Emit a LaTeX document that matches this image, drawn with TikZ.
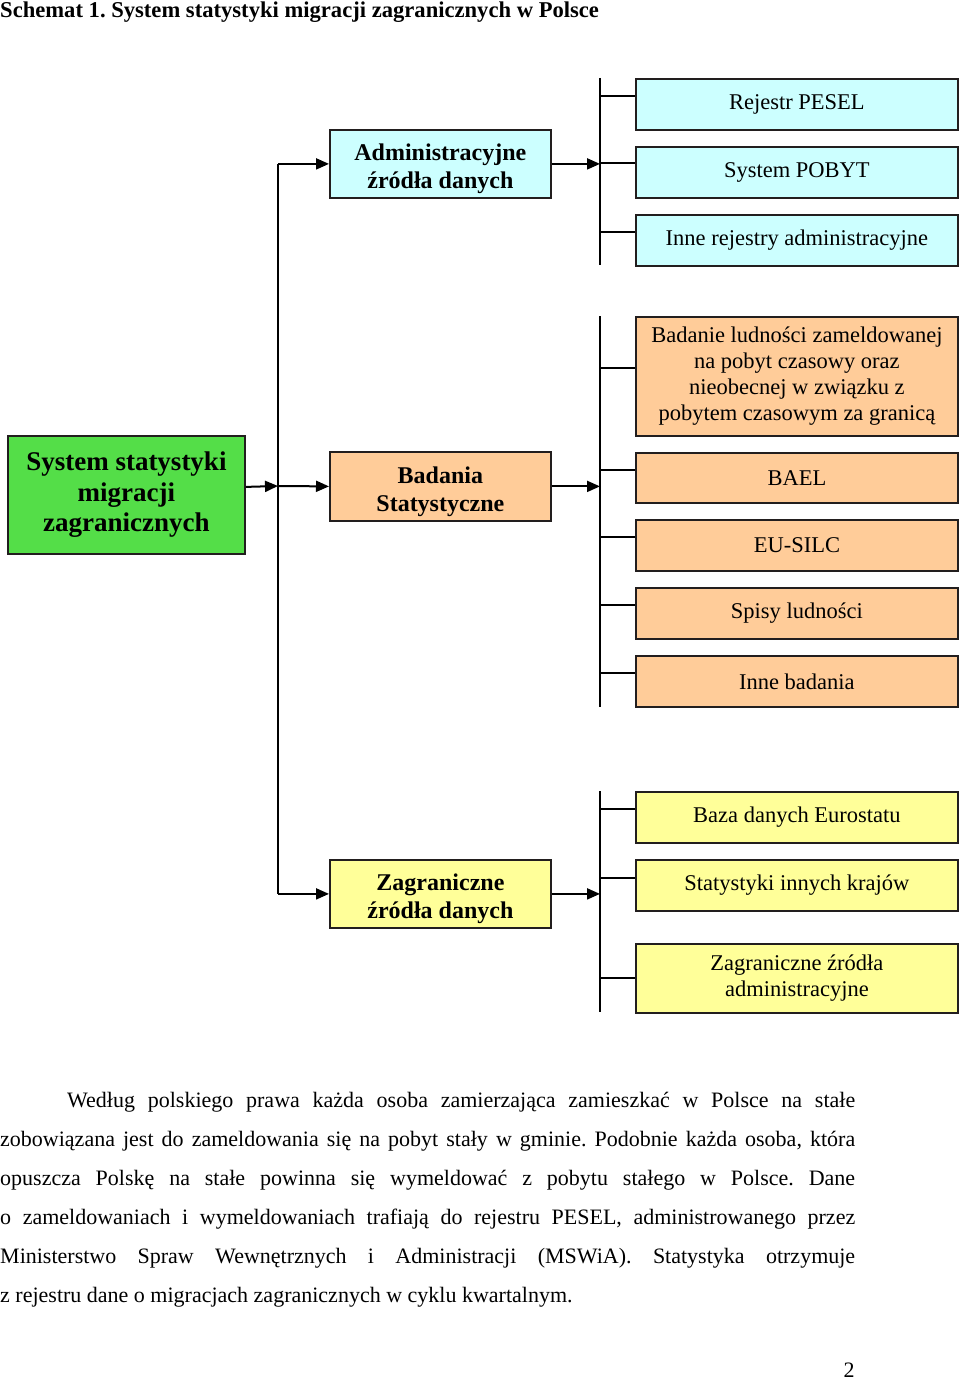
\documentclass[tikz,border=0pt]{standalone}
\usepackage{fontspec}
\setmainfont{Liberation Serif}
\usetikzlibrary{arrows.meta}
\definecolor{cyanbox}{RGB}{204,255,255}
\definecolor{peachbox}{RGB}{255,204,153}
\definecolor{yellowbox}{RGB}{255,255,153}
\definecolor{greenbox}{RGB}{84,222,72}
\definecolor{edge}{RGB}{34,30,30}
\frenchspacing
\tikzset{
  box/.style={draw=edge, line width=1.8pt, anchor=north west, inner sep=2pt, align=center},
  rbox/.style={box, minimum width=322pt, minimum height=51pt, font=\fontsize{22.5}{26}\selectfont},
  mbox/.style={box, minimum width=221pt, minimum height=68pt},
  mtext/.style={align=center, inner sep=0pt, font=\fontsize{24}{28}\selectfont\bfseries},
  conn/.style={line width=2pt, draw=black},
  arr/.style={conn, -{Triangle[length=13pt,width=11pt]}},
  bodytext/.style={anchor=base west, inner sep=0pt, font=\fontsize{22}{26}\selectfont}
}
\begin{document}
\begin{tikzpicture}[x=1pt,y=-1pt]
\useasboundingbox (0,0) rectangle (960,1380);

% title
\node[anchor=base west, inner sep=0pt, font=\fontsize{22.6}{26}\selectfont\bfseries] (title) at (0,18) {Schemat 1. System statystyki migracji zagranicznych w Polsce};

% main box
\node[box, fill=greenbox, minimum width=237pt, minimum height=118pt, font=\fontsize{27}{30.5}\selectfont\bfseries] (sys) at (7,435) {System statystyki\\migracji\\zagranicznych};

% middle boxes
\node[mbox, fill=cyanbox] (adm) at (329,129) {};
\node[mtext] (admt) at ([yshift=-5pt]adm.center) {Administracyjne\\źródła danych};
\node[mbox, fill=peachbox, minimum height=69pt] (bad) at (329,451) {};
\node[mtext] (badt) at ([yshift=-5pt]bad.center) {Badania\\Statystyczne};
\node[mbox, fill=yellowbox] (zag) at (329,859) {};
\node[mtext] (zagt) at ([yshift=-5pt]zag.center) {Zagraniczne\\źródła danych};

% right boxes - administrative
\node[rbox, fill=cyanbox] (pesel) at (635,78) {Rejestr PESEL};
\node[rbox, fill=cyanbox] (pobyt) at (635,146) {System POBYT};
\node[rbox, fill=cyanbox] (inne) at (635,214) {Inne rejestry administracyjne};

% right boxes - surveys
\node[rbox, fill=peachbox, minimum height=119pt] (ludn) at (635,316) {Badanie ludności zameldowanej\\na pobyt czasowy oraz\\nieobecnej w związku z\\pobytem czasowym za granicą};
\node[rbox, fill=peachbox, minimum height=50pt] (bael) at (635,452) {BAEL};
\node[rbox, fill=peachbox] (eusilc) at (635,519) {EU-SILC};
\node[rbox, fill=peachbox] (spisy) at (635,587) {Spisy ludności};
\node[rbox, fill=peachbox] (inneb) at (635,655) {Inne badania};

% right boxes - foreign
\node[rbox, fill=yellowbox] (euro) at (635,791) {Baza danych Eurostatu};
\node[rbox, fill=yellowbox] (stat) at (635,859) {Statystyki innych krajów};
\node[rbox, fill=yellowbox, minimum height=69pt] (zadm) at (635,943) {Zagraniczne źródła\\administracyjne};

% trunk
\coordinate (trunk) at (278,486);
\coordinate (br) at (600,0);
\draw[arr] ([yshift=8pt]sys.east) -- (trunk);
\draw[arr] (trunk) -- (bad.west);
\draw[conn] (trunk |- adm.west) -- (trunk |- zag.west);
\draw[arr] (trunk |- adm.west) -- (adm.west);
\draw[arr] (trunk |- zag.west) -- (zag.west);

% brackets
\coordinate (b1t) at (600,78);  \coordinate (b1b) at (600,265);
\coordinate (b2t) at (600,316); \coordinate (b2b) at (600,707);
\coordinate (b3t) at (600,791); \coordinate (b3b) at (600,1012);
\draw[conn] (b1t) -- (b1b);
\draw[conn] (b2t) -- (b2b);
\draw[conn] (b3t) -- (b3b);

\draw[arr] (adm.east) -- (adm.east -| br);
\draw[arr] (bad.east) -- (bad.east -| br);
\draw[arr] (zag.east) -- (zag.east -| br);

% ticks
\draw[conn] ([yshift=8.5pt]pesel.west -| br) -- ([yshift=8.5pt]pesel.west);
\draw[conn] ([yshift=9pt]pobyt.west -| br) -- ([yshift=9pt]pobyt.west);
\draw[conn] ([yshift=8.5pt]inne.west -| br) -- ([yshift=8.5pt]inne.west);
\draw[conn] ([yshift=8.5pt]ludn.west -| br) -- ([yshift=8.5pt]ludn.west);
\draw[conn] ([yshift=8pt]bael.west -| br) -- ([yshift=8pt]bael.west);
\draw[conn] ([yshift=8pt]eusilc.west -| br) -- ([yshift=8pt]eusilc.west);
\draw[conn] ([yshift=8.5pt]spisy.west -| br) -- ([yshift=8.5pt]spisy.west);
\draw[conn] ([yshift=8.5pt]inneb.west -| br) -- ([yshift=8.5pt]inneb.west);
\draw[conn] ([yshift=8.5pt]euro.west -| br) -- ([yshift=8.5pt]euro.west);
\draw[conn] ([yshift=7.5pt]stat.west -| br) -- ([yshift=7.5pt]stat.west);
\draw[conn] (zadm.west -| br) -- (zadm.west);

% body text
\node[bodytext] (l1) at (67,1107) {\makebox[788pt][s]{Według polskiego prawa każda osoba zamierzająca zamieszkać w Polsce na stałe}};
\node[bodytext] (l2) at (0,1146) {\makebox[855pt][s]{zobowiązana jest do zameldowania się na pobyt stały w gminie. Podobnie każda osoba, która}};
\node[bodytext] (l3) at (0,1185) {\makebox[855pt][s]{opuszcza Polskę na stałe powinna się wymeldować z pobytu stałego w Polsce. Dane}};
\node[bodytext] (l4) at (0,1224) {\makebox[855pt][s]{o zameldowaniach i wymeldowaniach trafiają do rejestru PESEL, administrowanego przez}};
\node[bodytext] (l5) at (0,1263) {\makebox[855pt][s]{Ministerstwo Spraw Wewnętrznych i Administracji (MSWiA). Statystyka otrzymuje}};
\node[bodytext] (l6) at (0,1302) {z rejestru dane o migracjach zagranicznych w cyklu kwartalnym.};

% page number
\node[anchor=base, inner sep=0pt, font=\fontsize{22}{26}\selectfont] (page) at (849,1377) {2};
\end{tikzpicture}
\end{document}
